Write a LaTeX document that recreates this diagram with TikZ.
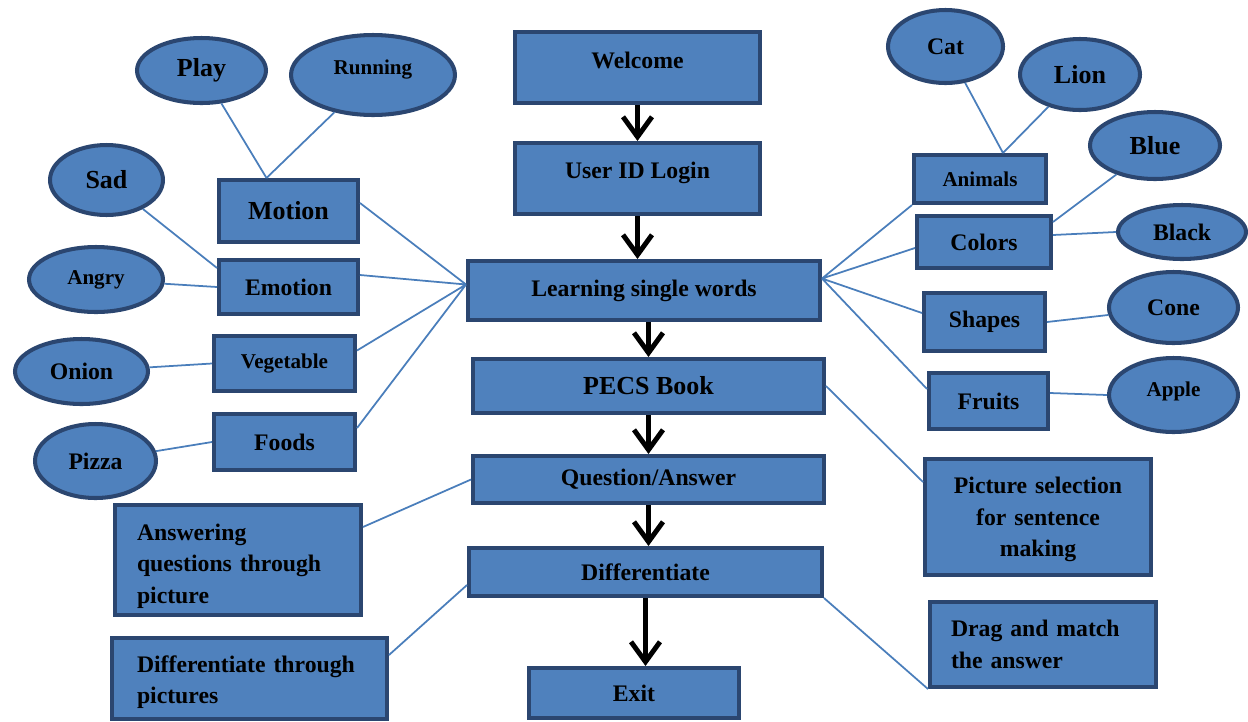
\documentclass[tikz,border=0pt]{standalone}
\usepackage{fontspec}
\setmainfont{Liberation Serif}
\usepackage{xcolor}
\usetikzlibrary{shapes.geometric,arrows.meta}

\definecolor{boxfill}{HTML}{4F81BD}
\definecolor{boxline}{HTML}{2B4670}
\definecolor{linkblue}{HTML}{4A7EBB}

\tikzset{
  box/.style={draw=boxline,fill=boxfill,line width=2.3pt,inner sep=0pt,font=\fontsize{13.5}{17.9}\selectfont\bfseries},
  oval/.style={box,ellipse},
  big/.style={font=\fontsize{14.8}{18}\selectfont\bfseries},
  small/.style={font=\fontsize{12}{15}\selectfont\bfseries},
  wh/.style 2 args={minimum width=#1cm,minimum height=#2cm},
  link/.style={draw=linkblue,line width=1pt},
  flow/.style={-{Straight Barb[length=0.4cm,width=0.58cm]},line width=2.8pt}
}

\begin{document}
\begin{tikzpicture}[x=0.02cm,y=-0.02cm]
\useasboundingbox (0,0) rectangle (1248,721);

% main column
\node[box,wh={4.9}{1.42},text depth=0.28cm] (welcome) at (637.5,67.5) {Welcome};
\node[box,wh={4.9}{1.42},text depth=0.32cm] (login) at (637.5,178.5) {User ID Login};
\node[box,wh={7.04}{1.18}] (learn) at (644,290.5) {Learning single words};
\node[box,big,wh={7.02}{1.08}] (pecs) at (648.5,386) {PECS Book};
\node[box,wh={7.02}{0.94}] (qa) at (648.5,479.5) {Question/Answer};
\node[box,wh={7.06}{0.96}] (diff) at (645.5,572) {Differentiate};
\node[box,wh={4.2}{1.0}] (exit) at (634,693) {Exit};

% left branch
\node[box,big,wh={2.78}{1.24}] (motion) at (288.5,211) {Motion};
\node[box,wh={2.78}{1.08}] (emotion) at (288.5,287) {Emotion};
\node[box,small,wh={2.82}{1.1}] (veg) at (284.5,363.5) {Vegetable};
\node[box,wh={2.82}{1.12}] (foods) at (284.5,442) {Foods};
\node[box,wh={4.92}{2.2},align=left,text width=4.04cm,inner xsep=0.44cm,text height=0.57cm] (answer) at (238,560) {Answering\\questions through\\picture};
\node[box,wh={5.5}{1.62},align=left,text width=4.5cm,inner xsep=0.5cm,text height=0.49cm] (diffpic) at (249.5,678.5) {Differentiate through\\pictures};

\node[oval,big,wh={2.58}{1.3}] (play) at (201.5,70.5) {Play};
\node[oval,small,wh={3.28}{1.6},text depth=0.3cm] (running) at (373,75) {Running};
\node[oval,big,wh={2.26}{1.4}] (sad) at (106.5,180) {Sad};
\node[oval,small,wh={2.68}{1.3}] (angry) at (96,279.5) {Angry};
\node[oval,wh={2.66}{1.3}] (onion) at (81.5,371.5) {Onion};
\node[oval,wh={2.42}{1.48}] (pizza) at (95.5,461) {Pizza};

% right branch
\node[box,small,wh={2.64}{0.96}] (animals) at (980,179) {Animals};
\node[box,wh={2.68}{1.04}] (colors) at (984,242) {Colors};
\node[box,wh={2.42}{1.16}] (shapes) at (984.5,322) {Shapes};
\node[box,wh={2.38}{1.12}] (fruits) at (988.5,401) {Fruits};
\node[box,wh={4.52}{2.32},align=center,text width=4.0cm,text height=0.43cm] (picsel) at (1038,517) {Picture selection\\for sentence\\making};
\node[box,wh={4.52}{1.7},align=left,text width=3.68cm,inner xsep=0.42cm] (drag) at (1043,644.5) {Drag and match\\the answer};

\node[oval,wh={2.3}{1.46}] (cat) at (945.5,46.5) {Cat};
\node[oval,big,wh={2.4}{1.42}] (lion) at (1080,74.5) {Lion};
\node[oval,big,wh={2.6}{1.34}] (blue) at (1155,145.5) {Blue};
\node[oval,wh={2.56}{1.08}] (black) at (1182,232) {Black};
\node[oval,wh={2.58}{1.42}] (cone) at (1173.5,307.5) {Cone};
\node[oval,small,wh={2.58}{1.48},text depth=0.22cm] (apple) at (1173.5,395) {Apple};

\coordinate (hubL) at ([yshift=0.12cm]learn.west);
\coordinate (hubR) at ([yshift=0.24cm]learn.east);

% arrows down the column
\draw[flow] (welcome) -- (login);
\draw[flow] (login) -- (login.south |- learn.north);
\draw[flow] (pecs.north |- learn.south) -- (pecs.north);
\draw[flow] (pecs) -- (qa);
\draw[flow] (qa.south) -- (qa.south |- diff.north);
\draw[flow] (diff.south) -- (diff.south |- exit.north);

% thin links
\draw[link] (play) -- ([xshift=-0.44cm]motion.north) (running) -- ([xshift=-0.44cm]motion.north);
\draw[link] (sad) -- ([yshift=-0.2cm]emotion.north west) (angry) -- (emotion.west);
\draw[link] (onion) -- (veg.west) (pizza) -- (foods.west);
\draw[link] ([yshift=0.16cm]motion.east) -- (hubL) ([yshift=0.24cm]emotion.east) -- (hubL) ([yshift=0.26cm]veg.east) -- (hubL) ([yshift=0.28cm]foods.east) -- (hubL);
\draw[link] (hubR) -- (animals.south west) (hubR) -- ([yshift=-0.12cm]colors.west) (hubR) -- ([yshift=0.18cm]shapes.west) (hubR) -- ([yshift=-0.36cm]fruits.north west);
\draw[link] (cat) -- ([xshift=0.46cm]animals.north) (lion) -- ([xshift=0.46cm]animals.north);
\draw[link] ([yshift=-0.16cm]colors.north east) -- (blue) ([yshift=0.14cm]colors.east) -- (black.west);
\draw[link] (shapes.east) -- (cone) ([yshift=0.16cm]fruits.east) -- (apple.west);
\draw[link] (pecs.east) -- ([yshift=-0.5cm]picsel.north west);
\draw[link] (qa.west) -- ([yshift=-0.48cm]answer.north east);
\draw[link] ([yshift=-0.26cm]diff.west) -- ([yshift=-0.38cm]diffpic.north east);
\draw[link] (diff.south east) -- (drag.south west);
\end{tikzpicture}
\end{document}
